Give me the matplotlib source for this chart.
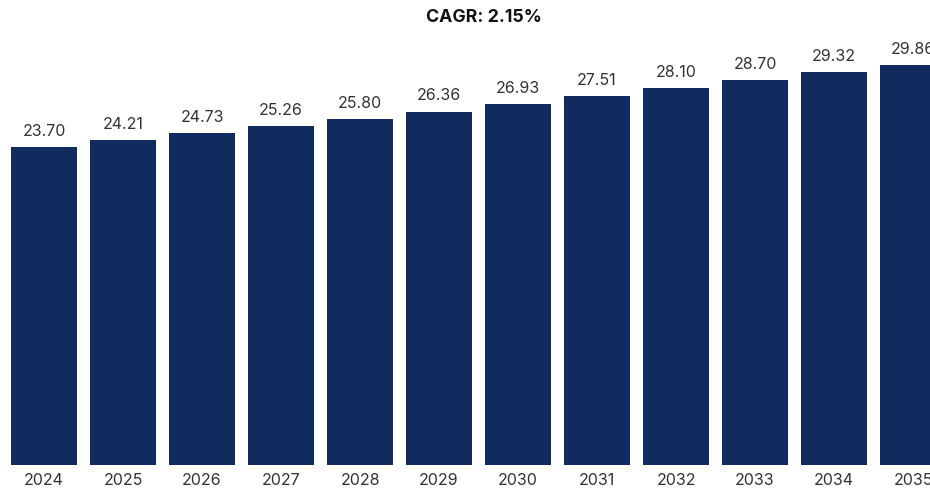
import matplotlib.pyplot as plt
import numpy as np

# data
anos = ['2024', '2025', '2026', '2027', '2028', '2029',
        '2030', '2031', '2032', '2033', '2034', '2035']
valores = [23.70, 24.21, 24.73, 25.26, 25.80, 26.36,
           26.93, 27.51, 28.10, 28.70, 29.32, 29.86]
titulo = 'CAGR: 2.15%'

plt.rcParams['font.family'] = ['Inter', 'DejaVu Sans']

fig = plt.figure(figsize=(9.3, 4.88), dpi=100)
ax = fig.add_axes([0, 23 / 488, 1, 425 / 488])

x = np.arange(len(anos))
barras = ax.bar(x, valores, width=0.835, color='#122b5e')

# rótulos de valor acima das barras
for xi, v in zip(x, valores):
    ax.annotate(f"{v:.2f}", (xi, v), xytext=(0, 8), textcoords='offset points',
                ha='center', va='baseline', fontsize=11.5, color='#333333')

ax.set_xlim(-0.557, 11.215)
ax.set_ylim(0, 31.7)
ax.set_xticks(x)
ax.set_xticklabels(anos, fontsize=11.5, color='#333333')
ax.tick_params(axis='x', length=0, pad=6)
ax.set_yticks([])
for s in ax.spines.values():
    s.set_visible(False)

fig.text(484 / 930, 1 - 17 / 488, titulo, ha='center', va='center',
         fontsize=12.8, fontweight='bold', color='#111111')

fig.savefig('out.png', dpi=100)
